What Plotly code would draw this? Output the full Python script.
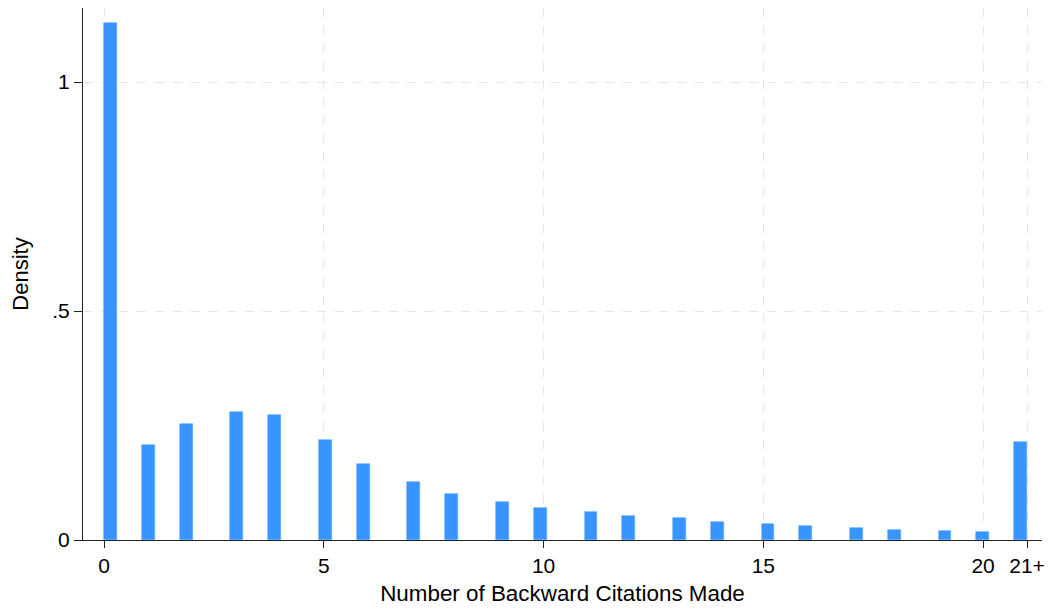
import math
import plotly.graph_objects as go

# Data
citations = list(range(22))  # 21 means "21+"
density = [1.129, 0.207, 0.253, 0.279, 0.273, 0.218, 0.166, 0.127, 0.100, 0.083,
           0.070, 0.061, 0.052, 0.047, 0.040, 0.036, 0.031, 0.027, 0.0225, 0.020,
           0.018, 0.215]
tick_vals = [0, 5, 10, 15, 20, 21]
tick_text = ["0", "5", "10", "15", "20", "21+"]

# histogram binning (range 0..21 split into 73 bins)
n_bins = 73
lo, hi = 0, 21
bw = (hi - lo) / n_bins
bin_idx = [min(int(math.floor((v - lo) / bw)), n_bins - 1) for v in citations]
bar_x = [lo + (i + 0.5) * bw for i in bin_idx]

font = "Liberation Sans, Arial, Helvetica, sans-serif"

fig = go.Figure()
fig.add_trace(go.Bar(
    x=bar_x, y=density, width=bw,
    marker=dict(color="#3894ff", line=dict(color="#5aa6ff", width=0.6)),
    showlegend=False,
))

# page body has an 8px margin, so the figure is sized to fill the rest
fig.update_layout(
    width=1046, height=604,
    margin=dict(l=75, r=12, t=0, b=72),
    paper_bgcolor="white", plot_bgcolor="white",
    font=dict(family=font, size=21, color="black"),
    bargap=0,
)
fig.update_xaxes(
    range=[-0.478, 21.34],
    tickvals=tick_vals, ticktext=tick_text,
    ticks="outside", ticklen=7, tickwidth=1.2, tickcolor="#222",
    showline=True, linecolor="#222", linewidth=1.2,
    showgrid=True, gridcolor="#e6e6e6", griddash="dash", gridwidth=1.2,
    zeroline=False, automargin=False,
    title=dict(text="Number of Backward Citations Made", font=dict(size=22.4), standoff=9),
    tickfont=dict(size=21),
)
fig.update_yaxes(
    range=[0, 1.1616],
    tickvals=[0, 0.5, 1], ticktext=["0", ".5", "1"],
    ticks="outside", ticklen=8, tickwidth=1.2, tickcolor="#222",
    showline=True, linecolor="#222", linewidth=1.2,
    showgrid=True, gridcolor="#e6e6e6", griddash="dash", gridwidth=1.2,
    zeroline=False, automargin=False,
    title=dict(text="Density", font=dict(size=22), standoff=17),
    tickfont=dict(size=21),
)

fig.write_html("out.html")
